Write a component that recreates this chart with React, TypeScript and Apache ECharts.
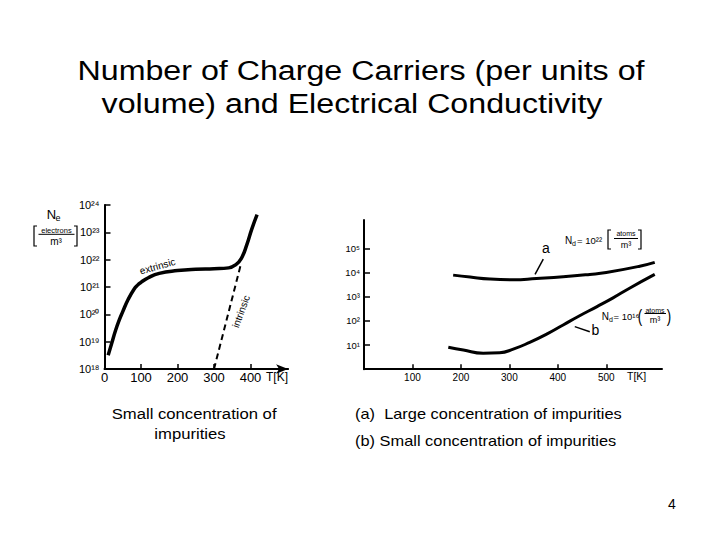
import React, { useEffect, useRef } from "react";
import * as echarts from "echarts";

// ---- Left panel: carrier density (log10 of N_e) vs temperature ----
const leftTempTicks = [100, 200, 300, 400];
const leftTempLabels = [0, 100, 200, 300, 400];
const extrinsicT = [10, 20, 30, 40, 50, 65, 80, 90, 100, 120, 150, 200, 250, 300, 340, 360, 375, 390, 403, 418];
const extrinsicLogNe = [18.5, 18.95, 19.4, 19.78, 20.1, 20.55, 20.9, 21.06, 21.17, 21.34, 21.5, 21.6, 21.65, 21.67, 21.7, 21.82, 22.05, 22.55, 23.1, 23.65];
const intrinsicT = [300, 373];
const intrinsicLogNe = [18, 21.8];

// ---- Right panel: conductivity (log10) vs temperature ----
const rightTempTicks = [100, 200, 300, 400, 500];
const rightLogTicks = [1, 2, 3, 4, 5];
const curveAT = [184, 219, 260, 308, 356, 411, 466, 500, 569, 600];
const curveALog = [3.89, 3.81, 3.73, 3.7, 3.75, 3.82, 3.92, 4.0, 4.26, 4.42];
const curveBT = [174, 205, 246, 280, 308, 342, 377, 411, 445, 480, 514, 548, 600];
const curveBLog = [0.91, 0.79, 0.66, 0.68, 0.83, 1.11, 1.45, 1.83, 2.21, 2.58, 2.95, 3.35, 3.92];
const leaderAT = [353, 370];
const leaderALog = [3.92, 4.55];
const leaderBT = [435, 466];
const leaderBLog = [1.76, 1.55];

const SUP: Record<string, string> = {
  "0": "⁰", "1": "¹", "2": "²", "3": "³", "4": "⁴",
  "5": "⁵", "6": "⁶", "7": "⁷", "8": "⁸", "9": "⁹",
};
const pow10 = (v: number) =>
  "10" + String(Math.round(v)).split("").map((c) => SUP[c] || c).join("");

const zip = (xs: number[], ys: number[]) => xs.map((x, i) => [x, ys[i]]);

const FONT = "Liberation Sans, Arial, sans-serif";

function txt(
  x: number, y: number, text: string, fontSize: number,
  align: string = "left", extra: any = {}, styleExtra: any = {}
) {
  return {
    type: "text", x, y, ...extra,
    style: {
      text, x: 0, y: 0, fontSize, fontFamily: FONT, fill: "#000",
      align, verticalAlign: "middle", ...styleExtra,
    },
  };
}

function line(x1: number, y1: number, x2: number, y2: number, w = 1) {
  return {
    type: "line",
    shape: { x1, y1, x2, y2 },
    style: { stroke: "#000", lineWidth: w },
  };
}

function bracket(x: number, y1: number, y2: number, dir: number) {
  return {
    type: "polyline",
    shape: { points: [[x + 3 * dir, y1], [x, y1], [x, y2], [x + 3 * dir, y2]] },
    style: { stroke: "#000", lineWidth: 1.2, fill: null },
  };
}

export default function App() {
  const ref = useRef<HTMLDivElement>(null);

  useEffect(() => {
    document.body.style.margin = "0";
    const chart = echarts.init(ref.current!, null, { renderer: "svg" });
    const axisLineStyle = { color: "#000", width: 2 };

    const option: any = {
      animation: false,
      backgroundColor: "#fff",
      grid: [
        { left: 104.5, top: 205, width: 183.6, height: 164 },
        { left: 364, top: 220, width: 298, height: 149.2 },
      ],
      xAxis: [
        {
          type: "value", gridIndex: 0, min: 0, max: 503,
          axisLine: { show: true, lineStyle: axisLineStyle, symbol: ["none", "arrow"], symbolSize: [7, 12] },
          axisTick: { show: true, inside: true, length: 5, customValues: leftTempTicks, lineStyle: { color: "#000", width: 1.5 } },
          axisLabel: { customValues: leftTempLabels, color: "#000", fontSize: 13, fontFamily: FONT, margin: 2 },
          splitLine: { show: false },
        },
        {
          type: "value", gridIndex: 1, min: 0, max: 615,
          axisLine: { show: true, lineStyle: axisLineStyle },
          axisTick: { show: true, inside: true, length: 5, customValues: rightTempTicks, lineStyle: { color: "#000", width: 1.5 } },
          axisLabel: { customValues: rightTempTicks, color: "#000", fontSize: 10, fontFamily: FONT, margin: 3 },
          splitLine: { show: false },
        },
      ],
      yAxis: [
        {
          type: "value", gridIndex: 0, min: 18, max: 24, interval: 1,
          axisLine: { show: true, lineStyle: axisLineStyle },
          axisTick: { show: true, inside: true, length: 6, lineStyle: { color: "#000", width: 1.5 } },
          axisLabel: { formatter: pow10, color: "#000", fontSize: 11, fontFamily: FONT, margin: 5 },
          splitLine: { show: false },
        },
        {
          type: "value", gridIndex: 1, min: 0, max: 6.17,
          axisLine: { show: true, lineStyle: axisLineStyle },
          axisTick: { show: true, inside: true, length: 6, customValues: rightLogTicks, lineStyle: { color: "#000", width: 1.5 } },
          axisLabel: { customValues: rightLogTicks, formatter: pow10, color: "#000", fontSize: 9.5, fontFamily: FONT, margin: 4 },
          splitLine: { show: false },
        },
      ],
      series: [
        {
          name: "extrinsic", type: "line", xAxisIndex: 0, yAxisIndex: 0,
          data: zip(extrinsicT, extrinsicLogNe), smooth: 0.5, showSymbol: false,
          lineStyle: { color: "#000", width: 3.5 },
        },
        {
          name: "intrinsic", type: "line", xAxisIndex: 0, yAxisIndex: 0,
          data: zip(intrinsicT, intrinsicLogNe), showSymbol: false,
          lineStyle: { color: "#000", width: 2, type: [6, 4] },
        },
        {
          name: "a", type: "line", xAxisIndex: 1, yAxisIndex: 1,
          data: zip(curveAT, curveALog), smooth: 0.5, showSymbol: false,
          lineStyle: { color: "#000", width: 3 },
        },
        {
          name: "b", type: "line", xAxisIndex: 1, yAxisIndex: 1,
          data: zip(curveBT, curveBLog), smooth: 0.5, showSymbol: false,
          lineStyle: { color: "#000", width: 3 },
        },
        {
          name: "leader a", type: "line", xAxisIndex: 1, yAxisIndex: 1,
          data: zip(leaderAT, leaderALog), showSymbol: false,
          lineStyle: { color: "#000", width: 1.5 },
        },
        {
          name: "leader b", type: "line", xAxisIndex: 1, yAxisIndex: 1,
          data: zip(leaderBT, leaderBLog), showSymbol: false,
          lineStyle: { color: "#000", width: 1.5 },
        },
      ],
      graphic: [
        // Title
        txt(361, 70, "Number of Charge Carriers (per units of", 28, "center", { scaleX: 1.15 }),
        txt(352, 103, "volume) and Electrical Conductivity", 28, "center", { scaleX: 1.15 }),
        // Captions
        txt(111.7, 414.3, "Small concentration of", 14.5, "left", { scaleX: 1.15 }),
        txt(190, 434, "impurities", 14.5, "center", { scaleX: 1.15 }),
        txt(355, 413.5, "(a)  Large concentration of impurities", 14.5, "left", { scaleX: 1.13 }),
        txt(355, 441, "(b) Small concentration of impurities", 14.5, "left", { scaleX: 1.13 }),
        txt(672, 504, "4", 14, "center"),
        // Left panel axis name
        txt(46.7, 214.7, "N", 13),
        txt(55.5, 218, "e", 9),
        bracket(34, 226, 246, 1),
        bracket(77, 226, 246, -1),
        txt(56.5, 230, "electrons", 7.5, "center"),
        line(38.5, 234.3, 74.5, 234.3, 1),
        txt(56, 241, "m³", 10, "center"),
        txt(266, 377, "T[K]", 12),
        // Curve labels (left)
        txt(157.5, 266.2, "extrinsic", 10, "center", { rotation: 0.28 }),
        txt(241, 311.5, "intrinsic", 10, "center", { rotation: 1.22 }),
        // Right panel labels
        txt(627, 375.7, "T[K]", 10.5),
        txt(546, 248, "a", 14, "center"),
        txt(595.5, 329.5, "b", 14, "center"),
        // N_d = 10^22 [atoms/m^3]
        txt(565, 240, "N", 10),
        txt(572, 243, "d", 7),
        txt(577, 240, "= " + pow10(22), 9.5),
        bracket(608, 230, 249, 1),
        txt(626, 233, "atoms", 7, "center"),
        line(614, 238.5, 638, 238.5, 1),
        txt(626, 244.5, "m³", 9, "center"),
        bracket(641, 230, 249, -1),
        // N_d = 10^16 (atoms/m^3)
        txt(601.7, 316.7, "N", 10),
        txt(609, 319.7, "d", 7),
        txt(613.5, 316.7, "= " + pow10(16), 9.5),
        txt(640, 315, "(", 19, "center", { scaleX: 0.7 }),
        txt(655, 310, "atoms", 7, "center"),
        line(644.5, 313.5, 666, 313.5, 1),
        txt(655, 320, "m³", 9, "center"),
        txt(669, 315, ")", 19, "center", { scaleX: 0.7 }),
      ],
    };

    chart.setOption(option);
    return () => chart.dispose();
  }, []);

  return <div ref={ref} style={{ width: 720, height: 540 }} />;
}
